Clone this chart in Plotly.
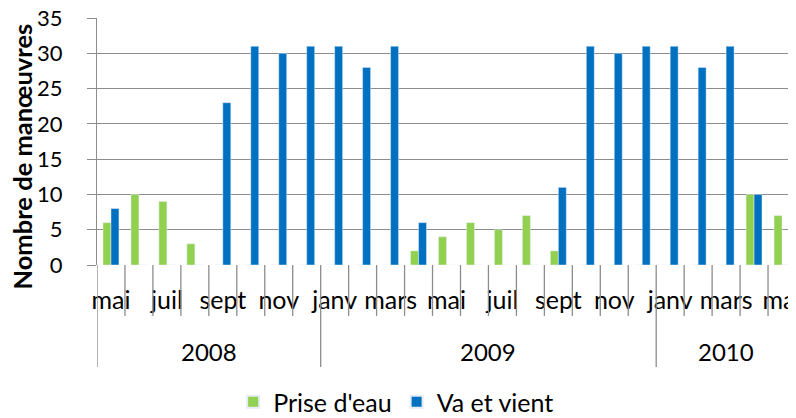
import plotly.graph_objects as go

months = ["mai", "juin", "juil", "août", "sept", "oct", "nov", "déc",
          "janv", "févr", "mars", "avr", "mai", "juin", "juil", "août", "sept", "oct", "nov", "déc",
          "janv", "févr", "mars", "avr", "mai"]
years = ["2008"] * 8 + ["2009"] * 12 + ["2010"] * 5
prise_eau = [6, 10, 9, 3, 0, 0, 0, 0,
             0, 0, 0, 2, 4, 6, 5, 7, 2, 0, 0, 0,
             0, 0, 0, 10, 7]
va_et_vient = [8, 0, 0, 0, 23, 31, 30, 31,
               31, 28, 31, 6, 0, 0, 0, 0, 11, 31, 30, 31,
               31, 28, 31, 10, 0]
y_ticks = [0, 5, 10, 15, 20, 25, 30, 35]
y_title = "Nombre de manœuvres"

FONT = "Lato"
GREEN = "#92D050"
BLUE = "#0070C0"
GRID = "#8c8c8c"

n = len(months)
x = list(range(n))

fig = go.Figure()
fig.add_trace(go.Bar(x=x, y=prise_eau, name="Prise d'eau", marker_color=GREEN))
fig.add_trace(go.Bar(x=x, y=va_et_vient, name="Va et vient", marker_color=BLUE))

shapes = []
# category boundary ticks
for k in range(n + 1):
    b = k - 0.5
    is_year_edge = k == 0 or k == n or years[k] != years[k - 1]
    shapes.append(dict(type="line", xref="x", yref="paper", x0=b, x1=b,
                       y0=0, y1=-0.413 if is_year_edge else -0.206,
                       line=dict(color=GRID, width=1.3)))

annotations = []
start = 0
for k in range(1, n + 1):
    if k == n or years[k] != years[start]:
        annotations.append(dict(x=(start + k - 1) / 2, y=-0.352, xref="x", yref="paper",
                                yanchor="middle",
                                text=years[start], showarrow=False,
                                font=dict(family=FONT, size=24, color="black")))
        start = k

annotations.append(dict(x=-0.107, y=0.44, xref="paper", yref="paper",
                        xanchor="center", yanchor="middle", textangle=-90,
                        text="<b>" + y_title + "</b>", showarrow=False,
                        font=dict(family=FONT, size=25.5, color="black")))

tickvals = x[::2]
ticktext = months[::2]

fig.update_layout(
    width=788, height=410,
    margin=dict(l=89, r=0, t=10, b=153, autoexpand=False),
    paper_bgcolor="white", plot_bgcolor="white",
    barmode="group", bargap=0.43, bargroupgap=0,
    font=dict(family=FONT, size=24, color="black"),
    shapes=shapes, annotations=annotations,
    showlegend=True,
    legend=dict(orientation="h", x=0.428, xanchor="center", y=-0.555, yanchor="middle",
                font=dict(family=FONT, size=25, color="black"), itemsizing="constant"),
    xaxis=dict(range=[-0.5, n - 0.5], tickvals=tickvals, ticktext=ticktext,
               showgrid=False, zeroline=False, showline=False, ticks="",
               automargin=False,
               ticklabelstandoff=18, ticklabeloverflow="allow",
               tickfont=dict(family=FONT, size=25, color="black")),
    yaxis=dict(range=[0, 35], tickvals=y_ticks, showgrid=True, gridcolor=GRID, gridwidth=1.3,
               zeroline=False, showline=True, linecolor=GRID, linewidth=1.3,
               ticks="outside", ticklen=9, tickcolor=GRID, tickwidth=1.3,
               ticklabelstandoff=20, automargin=False, ticklabeloverflow="allow",
               tickfont=dict(family=FONT, size=22, color="black")),
)

fig.write_html("out.html")
